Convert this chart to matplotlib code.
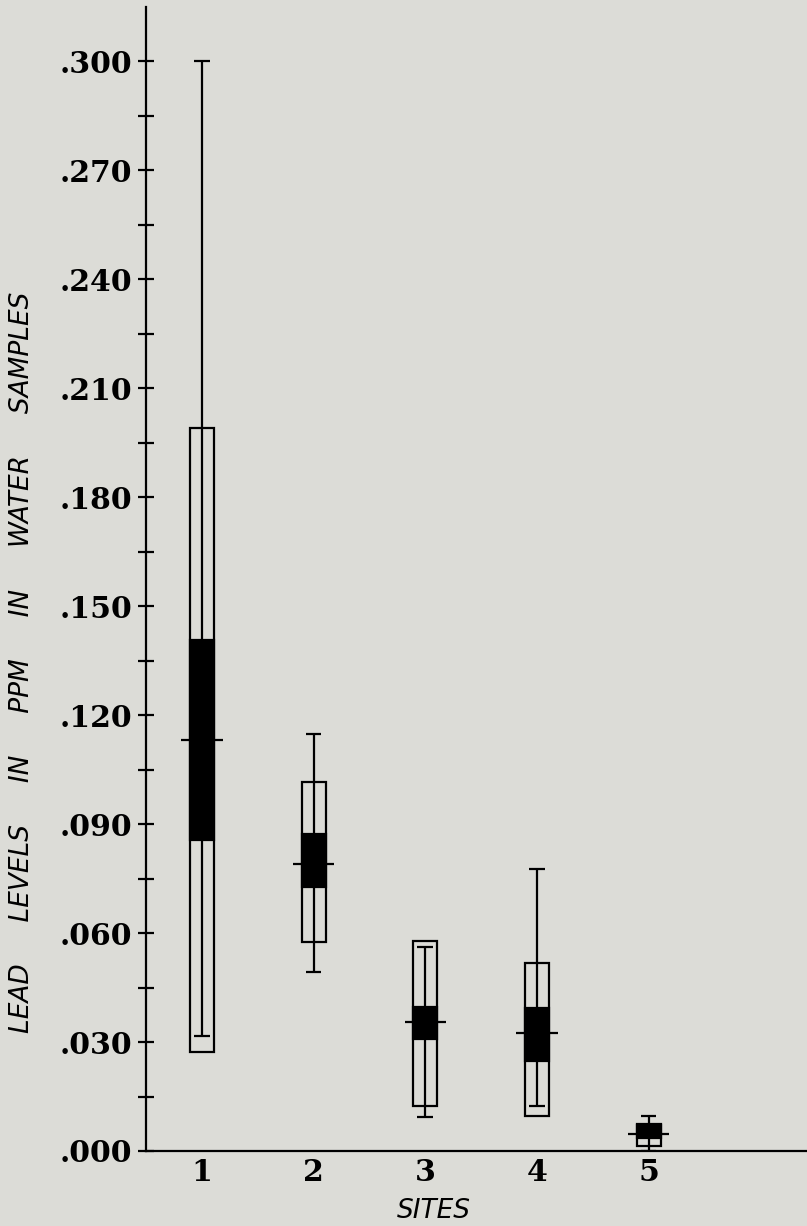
import matplotlib
matplotlib.use("Agg")
import matplotlib.pyplot as plt
import numpy as np

# ---- data (ppm lead in water samples) ----
sites = [1, 2, 3, 4, 5]
site_labels = ["1", "2", "3", "4", "5"]
range_max = [0.300, 0.1147, 0.0562, 0.0776, 0.0096]
range_min = [0.0317, 0.0494, 0.0094, 0.0124, 0.0000]
box_high = [0.1989, 0.1015, 0.0579, 0.0517, 0.0074]
box_low = [0.0273, 0.0574, 0.0125, 0.0096, 0.0014]
se_high = [0.1407, 0.0872, 0.0397, 0.0393, 0.0072]
se_low = [0.0856, 0.0728, 0.0308, 0.0249, 0.0035]
means = [0.1131, 0.0789, 0.0354, 0.0326, 0.0046]
major_ticks = [0.000, 0.030, 0.060, 0.090, 0.120, 0.150, 0.180, 0.210, 0.240, 0.270, 0.300]
major_labels = [".000", ".030", ".060", ".090", ".120", ".150", ".180", ".210", ".240", ".270", ".300"]
minor_ticks = [0.015, 0.045, 0.075, 0.105, 0.135, 0.165, 0.195, 0.225, 0.255, 0.285]

BG = "#dcdcd7"
W, H = 807, 1226
fig = plt.figure(figsize=(W / 100, H / 100), dpi=100, facecolor=BG)
ax = fig.add_axes([146 / W, 75 / H, (W - 146) / W, (1151 - 7) / H])
ax.set_facecolor(BG)

x = np.array(sites, dtype=float)
box_w = 0.215
cap_w = 0.14
mean_w = 0.37
lw = 1.6

# hollow boxes
ax.bar(x, np.array(box_high) - np.array(box_low), bottom=box_low, width=box_w,
       facecolor="none", edgecolor="black", linewidth=lw, zorder=2)
# range lines and caps
ax.vlines(x, range_min, range_max, color="black", linewidth=lw, zorder=3)
ax.hlines(range_max, x - cap_w / 2, x + cap_w / 2, color="black", linewidth=lw, zorder=3)
ax.hlines(range_min, x - cap_w / 2, x + cap_w / 2, color="black", linewidth=lw, zorder=3)
# solid inner boxes
ax.bar(x, np.array(se_high) - np.array(se_low), bottom=se_low, width=box_w,
       facecolor="black", edgecolor="black", linewidth=lw, zorder=4)
# means
ax.hlines(means, x - mean_w / 2, x + mean_w / 2, color="black", linewidth=lw, zorder=5)

ax.set_xlim(0.5, 0.5 + (W - 146) / 111.7)
ax.set_ylim(0, 1144 / 3633)

for s in ["top", "right"]:
    ax.spines[s].set_visible(False)
for s in ["left", "bottom"]:
    ax.spines[s].set_linewidth(1.6)
    ax.spines[s].set_color("black")

ax.set_yticks(major_ticks)
ax.set_yticklabels(major_labels, fontfamily="DejaVu Serif", fontweight="bold", fontsize=21.5)
ax.set_yticks(minor_ticks, minor=True)
ax.tick_params(axis="y", which="both", direction="inout", length=12, width=1.6, pad=4)
ax.set_xticks(x)
ax.set_xticklabels(site_labels, fontfamily="DejaVu Serif", fontweight="bold", fontsize=21.5)
ax.tick_params(axis="x", length=0, pad=5)

fig.text(434 / W, 1 - 1211 / H, "SITES", fontfamily="DejaVu Sans", fontstyle="oblique",
         fontsize=19, ha="center", va="center")
fig.text(22 / W, 1 - 662 / H, "LEAD     LEVELS     IN     PPM     IN     WATER     SAMPLES",
         fontfamily="DejaVu Sans", fontstyle="oblique", fontsize=19, rotation=90,
         ha="center", va="center")

fig.savefig("out.png", dpi=100, facecolor=BG)
